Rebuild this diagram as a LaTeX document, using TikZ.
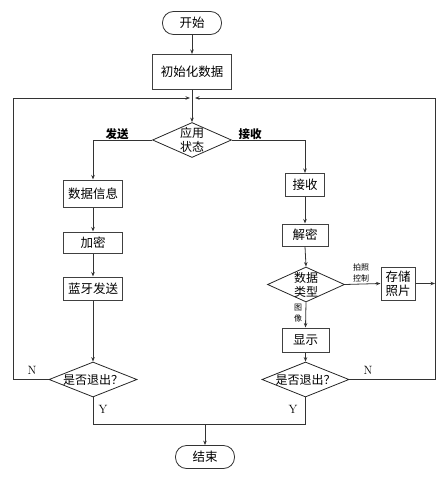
\documentclass[tikz,border=0pt]{standalone}
\usepackage{fontspec}
\newfontfamily\cjk{Noto Sans CJK SC}
\usetikzlibrary{shapes.geometric,arrows.meta}
\begin{document}
\begin{tikzpicture}[x=1pt,y=-1pt,
  every node/.style={font=\cjk\fontsize{12.5}{14}\selectfont},
  box/.style={draw=black!75,line width=1pt,inner sep=0pt,align=center},
  term/.style={draw=black!80,line width=0.8pt,rounded corners=11pt,inner sep=0pt,minimum width=59pt,minimum height=23pt},
  dia/.style={diamond,draw=black!85,line width=0.8pt,inner sep=0pt},
  dtext/.style={align=center,inner sep=0pt,font=\cjk\fontsize{12}{14}\selectfont},
  lbl/.style={inner sep=1pt,font=\cjk\bfseries\fontsize{11.5}{13}\selectfont},
  small/.style={inner sep=0pt,align=center,font=\cjk\fontsize{8}{11}\selectfont},
  yn/.style={inner sep=0pt,font=\fontsize{12}{14}\selectfont},
  ln/.style={draw=black!80,line width=0.8pt},
  arr/.style={ln,-{Stealth[length=4.5pt,width=3.5pt]}}]
\useasboundingbox (0,0) rectangle (447,481);
% nodes
\node[term] (start) at (192,23) {开始};
\node[box,minimum width=79pt,minimum height=35pt] (init) at (192,72) {初始化数据};
\node[dia,minimum width=79pt,minimum height=35pt] (app) at (192,140) {};
\node[dtext] (appt) at (192,140) {应用\\状态};
\node[box,minimum width=59pt,minimum height=27pt] (info) at (93,193.5) {数据信息};
\node[box,minimum width=59pt,minimum height=21pt] (enc) at (93,242.5) {加密};
\node[box,minimum width=59pt,minimum height=23pt] (bt) at (93,288.5) {蓝牙发送};
\node[dia,minimum width=88pt,minimum height=35pt] (q1) at (93,379.5) {};
\node[dtext] (q1t) at (93,379.5) {是否退出？};
\node[box,minimum width=39pt,minimum height=23pt] (recv) at (305,185) {接收};
\node[box,minimum width=46pt,minimum height=22pt] (dec) at (305,235) {解密};
\node[dia,minimum width=77pt,minimum height=35pt] (dt) at (306,284.5) {};
\node[dtext] (dtt) at (306,284.5) {数据\\类型};
\node[box,minimum width=34pt,minimum height=33pt] (store) at (398,283.5) {存储\\照片};
\node[box,minimum width=47pt,minimum height=24pt] (show) at (305.5,340) {显示};
\node[dia,minimum width=87pt,minimum height=35pt] (q2) at (305.5,379.5) {};
\node[dtext] (q2t) at (305.5,379.5) {是否退出？};
\node[term] (end) at (205,457) {结束};
% coordinates
\coordinate (jl) at (190,98);
\coordinate (jr) at (195,98);
\coordinate (lb) at (13,379.5);
\coordinate (lt) at (13,98);
\coordinate (rb) at (435,379.5);
\coordinate (rt) at (435,98);
\coordinate (rs) at (435,283.5);
\coordinate (yl) at (93,424);
\coordinate (yr) at (305.5,424);
\coordinate (ym) at (205,424);
% connectors
\draw[arr] (start) -- (init);
\draw[arr] (init) -- (app);
\draw[arr] (app.west) -| (info.north);
\draw[arr] (app.east) -| (recv.north);
\draw[arr] (info) -- (enc);
\draw[arr] (enc) -- (bt);
\draw[arr] (bt) -- (q1);
\draw[arr] (recv) -- (dec);
\draw[arr] (dec.south) -- (dt.north);
\draw[arr] (dt.east) -- (store.west);
\draw[arr] (store.east) -- (rs);
\draw[arr] (dt.south) -- (show.north);
\draw[arr] (show) -- (q2.north);
\draw[arr] (q1.west) -- (lb) -- (lt) -- (jl);
\draw[arr] (q2.east) -- (rb) -- (rt) -- (jr);
\draw[ln] (q1.south) -- (yl) -- (yr) -- (q2.south);
\draw[arr] (ym) -- (end);
% labels
\node[lbl] (ls) at (117,134) {发送};
\node[lbl] (lr) at (250,134) {接收};
\node[small] (lp) at (361,272.5) {拍照\\控制};
\node[small] (li) at (298,313) {图\\像};
\node[yn] (n1) at (32,370) {N};
\node[yn] (n2) at (368,370) {N};
\node[yn] (y1) at (103,409) {Y};
\node[yn] (y2) at (293,409) {Y};
\end{tikzpicture}
\end{document}
